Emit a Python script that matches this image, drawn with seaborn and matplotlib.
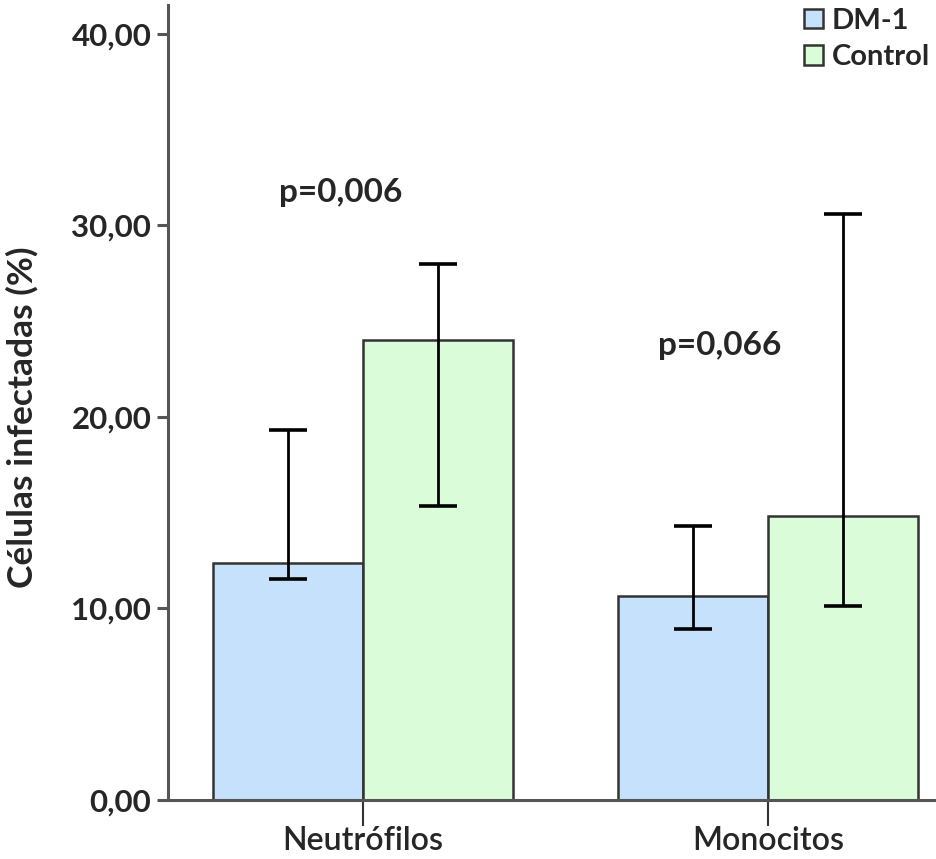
import matplotlib
matplotlib.use("Agg")
import matplotlib.pyplot as plt
import seaborn as sns
import pandas as pd
import numpy as np
from matplotlib.patches import Patch

categories = ["Neutrófilos", "Monocitos"]
groups = ["DM-1", "Control"]
dm1_values = [12.35, 10.64]
control_values = [24.0, 14.81]
dm1_lower = [11.56, 8.93]
dm1_upper = [19.34, 14.3]
control_lower = [15.34, 10.13]
control_upper = [28.0, 30.57]
p_labels = ["p=0,006", "p=0,066"]
p_y = [31.7, 23.7]
y_ticks = [0, 10, 20, 30, 40]
y_tick_labels = ["0,00", "10,00", "20,00", "30,00", "40,00"]

colors = {"DM-1": "#c5e1fb", "Control": "#dbfcd9"}

df = pd.DataFrame({
    "categoria": categories * 2,
    "grupo": ["DM-1"] * 2 + ["Control"] * 2,
    "valor": dm1_values + control_values,
    "lo": dm1_lower + control_lower,
    "hi": dm1_upper + control_upper,
})

sns.set_theme(style="white")
plt.rcParams["font.family"] = ["Lato", "DejaVu Sans"]

fig = plt.figure(figsize=(9.37, 8.59), dpi=100)
ax = fig.add_axes([168 / 937, 1 - 800 / 859, 1 - 168 / 937, (800 - 5) / 859])

sns.barplot(data=df, x="categoria", y="valor", hue="grupo", order=categories,
            hue_order=groups, palette=colors, saturation=1, errorbar=None, width=0.74,
            edgecolor="#333333", linewidth=1.8, ax=ax, legend=False)

# error bars positioned at bar centres
for patch, (_, row) in zip(ax.patches, df.iterrows()):
    xc = patch.get_x() + patch.get_width() / 2
    ax.errorbar([xc], [row["valor"]],
                yerr=[[row["valor"] - row["lo"]], [row["hi"] - row["valor"]]],
                fmt="none", ecolor="black", elinewidth=2.0, capsize=14, capthick=2.6,
                zorder=5)

ax.set_xlim(-0.481, 1.417)
ax.set_ylim(0, 41.5)
ax.set_yticks(y_ticks)
ax.set_yticklabels(y_tick_labels, fontsize=22.5, fontweight="bold")
ax.set_xticks(range(len(categories)))
ax.set_xticklabels(categories, fontsize=23, fontweight="semibold")
ax.tick_params(axis="y", direction="out", length=8, width=2.2, color="#555555",
               left=True, pad=4)
ax.tick_params(axis="x", direction="out", length=19, width=1.5, color="#333333",
               bottom=True, pad=0)
ax.set_xlabel("")
ax.set_ylabel("Células infectadas (%)", fontsize=25.5, fontweight="bold")
ax.yaxis.label.set_va("center")
ax.yaxis.set_label_coords(-0.19, 0.482)

for s in ["top", "right"]:
    ax.spines[s].set_visible(False)
for s in ["left", "bottom"]:
    ax.spines[s].set_color("#555555")
    ax.spines[s].set_linewidth(2.2)

for i, (lab, yy) in enumerate(zip(p_labels, p_y)):
    xoff = -0.054 if i == 0 else -0.119
    ax.text(i + xoff, yy, lab, ha="center", va="center", fontsize=24, fontweight="bold")

handles = [Patch(facecolor=colors[g], edgecolor="#333333", linewidth=1.8, label=g) for g in groups]
leg = ax.legend(handles=handles, loc="upper right", bbox_to_anchor=(0.995, 1.0),
                frameon=False, handlelength=0.65, handleheight=0.65, handletextpad=0.3,
                labelspacing=0.35, borderaxespad=0.0, borderpad=0.1,
                prop={"size": 21, "weight": "bold"})

fig.savefig("out.png", dpi=100)
